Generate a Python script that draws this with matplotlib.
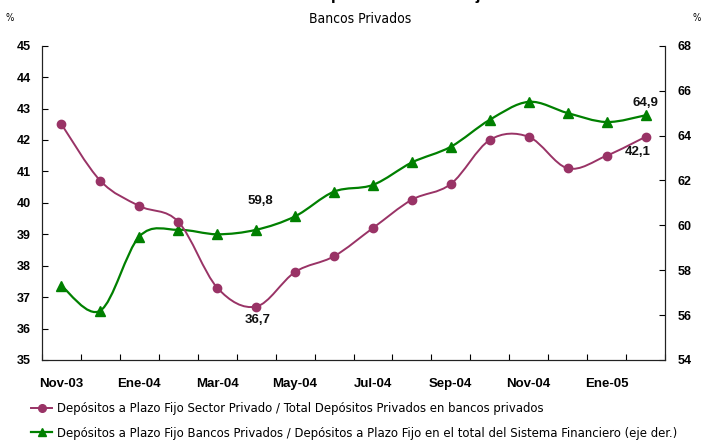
import matplotlib
matplotlib.use("Agg")
import matplotlib.pyplot as plt
import numpy as np
from matplotlib.path import Path
from matplotlib.patches import PathPatch
from matplotlib.lines import Line2D
from matplotlib import font_manager

# meses (Nov-03 a Feb-05)
meses = ["Nov-03", "Dic-03", "Ene-04", "Feb-04", "Mar-04", "Abr-04", "May-04", "Jun-04",
         "Jul-04", "Ago-04", "Sep-04", "Oct-04", "Nov-04", "Dic-04", "Ene-05", "Feb-05"]
# PF sector privado / total depositos privados en bancos privados (eje izq.)
pf_privado = [42.5, 40.7, 39.9, 39.4, 37.3, 36.7, 37.8, 38.3,
              39.2, 40.1, 40.6, 42.0, 42.1, 41.1, 41.5, 42.1]
# PF bancos privados / PF total sistema financiero (eje der.)
pf_bancos = [57.3, 56.2, 59.5, 59.8, 59.6, 59.8, 60.4, 61.5,
             61.8, 62.8, 63.5, 64.7, 65.5, 65.0, 64.6, 64.9]

leyenda = ["Depósitos a Plazo Fijo Sector Privado / Total Depósitos Privados en bancos privados",
           "Depósitos a Plazo Fijo Bancos Privados / Depósitos a Plazo Fijo en el total del Sistema Financiero (eje der.)"]

# buscar una fuente angosta si hay alguna instalada
angosta = None
for f in font_manager.fontManager.ttflist:
    nom = (f.name + " " + f.fname).lower()
    if ("condensed" in nom or "narrow" in nom or str(f.stretch) in ("condensed", "semi-condensed")) \
            and "bold" not in nom and "italic" not in nom and "oblique" not in nom:
        angosta = f.fname
        break
if angosta:
    fp_texto = lambda s: font_manager.FontProperties(fname=angosta, size=s)
else:
    fp_texto = lambda s: font_manager.FontProperties(family="Liberation Sans", size=s)

c_mag = "#993366"
c_verde = "#008000"


def curva_suave(x, y):
    # bezier tipo Excel: puntos de control a 1/6 de la diferencia de vecinos
    x = np.asarray(x, float)
    y = np.asarray(y, float)
    pts = np.column_stack([x, y])
    ext = np.vstack([pts[0], pts, pts[-1]])
    verts = [pts[0]]
    codes = [Path.MOVETO]
    for i in range(len(pts) - 1):
        p0, p1, p2, p3 = ext[i], ext[i + 1], ext[i + 2], ext[i + 3]
        c1 = p1 + (p2 - p0) / 6.0
        c2 = p2 - (p3 - p1) / 6.0
        verts += [c1, c2, p2]
        codes += [Path.CURVE4] * 3
    return Path(verts, codes)


fig = plt.figure(figsize=(7.08, 4.41), dpi=100)
ax = fig.add_axes([42 / 708, 1 - 360 / 441, 623 / 708, 314.3 / 441])
ax2 = ax.twinx()
ax.set_zorder(ax2.get_zorder() + 1)
ax.patch.set_visible(False)

x = np.arange(len(meses))

ax2.add_patch(PathPatch(curva_suave(x, pf_bancos), fill=False, edgecolor=c_verde, lw=1.6))
ax2.plot(x, pf_bancos, ls="none", marker="^", ms=6.5, color=c_verde)
ax.add_patch(PathPatch(curva_suave(x, pf_privado), fill=False, edgecolor=c_mag, lw=1.4))
ax.plot(x, pf_privado, ls="none", marker="o", ms=6, color=c_mag)

ax.set_xlim(-0.5, len(meses) - 0.5)
ax.set_ylim(35, 45)
ax2.set_ylim(54, 68)
ax.set_yticks(np.arange(35, 46, 1))
ax2.set_yticks(np.arange(54, 69, 2))

ax.set_xticks(x[::2])
ax.set_xticklabels(meses[::2])
ax.set_xticks(np.arange(-0.5, len(meses), 1), minor=True)
ax.tick_params(axis="x", which="major", length=0, pad=13)
ax.tick_params(axis="x", which="minor", direction="in", length=4, width=0.8)

for t in ax.get_xticklabels():
    t.set_fontproperties(font_manager.FontProperties(family="Liberation Sans", weight="bold", size=9.5))
for t in ax.get_yticklabels() + ax2.get_yticklabels():
    t.set_fontproperties(font_manager.FontProperties(family="Liberation Sans", weight="bold", size=9))
ax.tick_params(axis="y", direction="in", length=4, width=0.8, pad=8)
ax2.tick_params(axis="y", direction="in", length=4, width=0.8, pad=9)

for a in (ax, ax2):
    a.spines["top"].set_visible(False)
    for s in a.spines.values():
        s.set_linewidth(0.8)
        s.set_color("#222222")


# etiquetas de datos
def coma(v):
    return f"{v:.1f}".replace(".", ",")


etq = dict(fontsize=9.5, fontweight="bold", family="Liberation Sans", color="#111111",
           ha="center", va="center", textcoords="offset points")
ax2.annotate(coma(pf_bancos[5]), (5, pf_bancos[5]), xytext=(3, 21), **etq)
ax.annotate(coma(pf_privado[5]), (5, pf_privado[5]), xytext=(1, -10), **etq)
ax2.annotate(coma(pf_bancos[15]), (15, pf_bancos[15]), xytext=(0, 9), **etq)
ax.annotate(coma(pf_privado[15]), (15, pf_privado[15]), xytext=(-6, -11), **etq)

# titulos
fig.text(0.565, 0.999, "Depósitos a Plazo Fijo", ha="center", va="baseline",
         fontsize=12.3, fontweight="bold", family="Liberation Sans")
fig.text(360 / 708, 1 - 19 / 441, "Bancos Privados", ha="center", va="center",
         fontproperties=fp_texto(10))
fig.text(10 / 708, 1 - 18 / 441, "%", ha="center", va="center", fontproperties=fp_texto(7))
fig.text(697 / 708, 1 - 18 / 441, "%", ha="center", va="center", fontproperties=fp_texto(7))

# tamaño de la leyenda para que el texto largo ocupe ~624 px
fig.canvas.draw()
r = fig.canvas.get_renderer()
tam = 9.0
t = fig.text(0, 0, leyenda[1], fontproperties=fp_texto(tam))
ancho = t.get_window_extent(r).width
t.remove()
tam = tam * 620 / ancho

h1 = Line2D([], [], color=c_mag, lw=1.4, marker="o", ms=5.5)
h2 = Line2D([], [], color=c_verde, lw=1.6, marker="^", ms=6)
fig.legend([h1, h2], leyenda,
           loc="upper left", bbox_to_anchor=(26 / 708, 1 - 397 / 441), frameon=False,
           handlelength=1.6, handletextpad=0.4, labelspacing=0.9, borderaxespad=0,
           prop=fp_texto(tam))

fig.savefig("out.png", dpi=100)
